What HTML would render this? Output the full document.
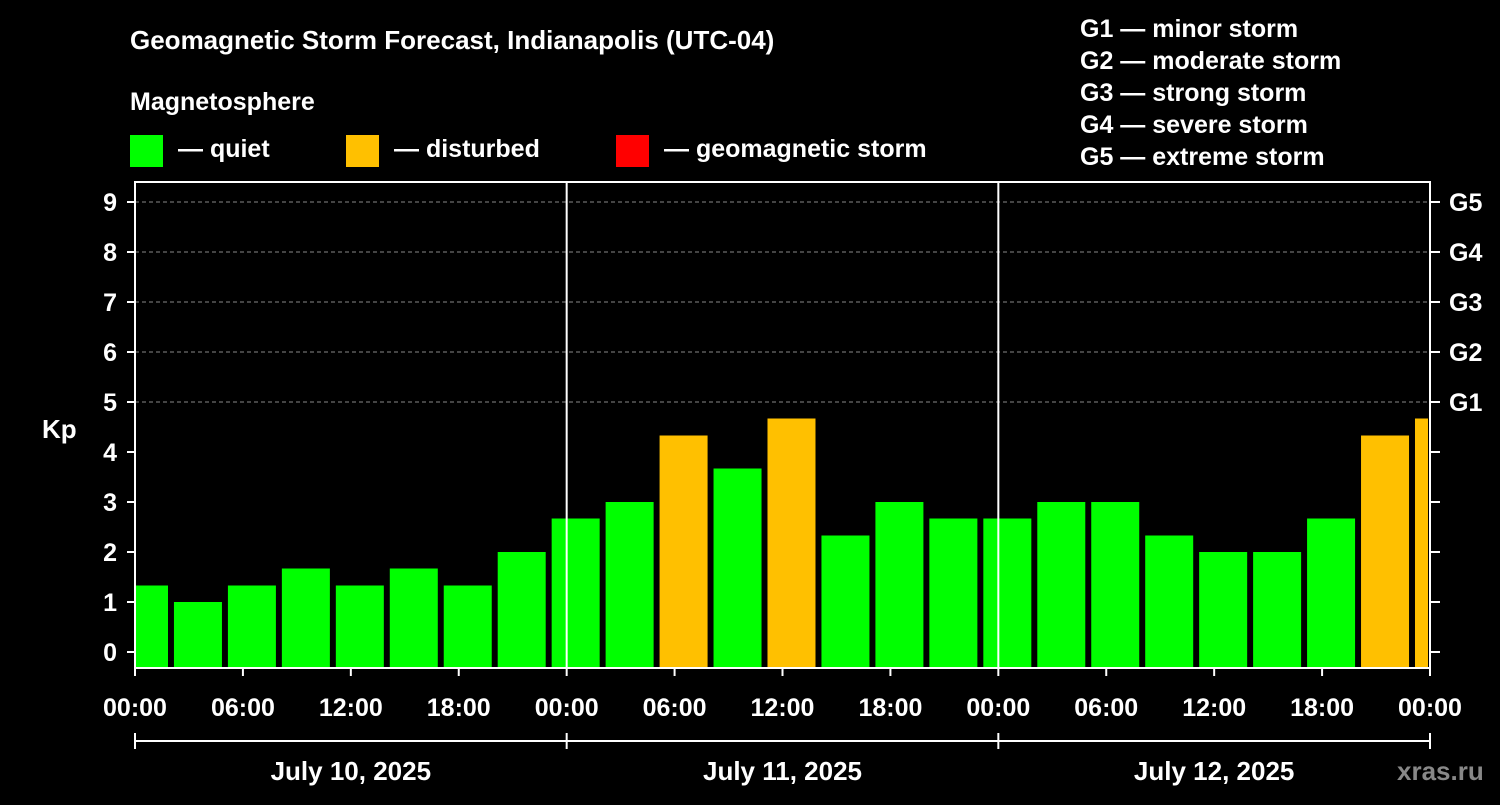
<!DOCTYPE html>
<html><head><meta charset="utf-8"><style>
body{margin:0;background:#000;width:1500px;height:800px;overflow:hidden;font-family:"Liberation Sans",sans-serif;}
svg text{font-family:"Liberation Sans",sans-serif;font-weight:bold;fill:#fff;}
</style></head><body>
<svg id="chart" width="1500" height="800" xmlns="http://www.w3.org/2000/svg">
<text x="130" y="49" font-size="26">Geomagnetic Storm Forecast, Indianapolis (UTC-04)</text>
<text x="130" y="110" font-size="25">Magnetosphere</text>
<g><rect x="130" y="135" width="33" height="32" fill="#00ff00"/><text x="178" y="157" font-size="25">— quiet</text></g>
<g><rect x="346" y="135" width="33" height="32" fill="#ffc000"/><text x="394" y="157" font-size="25">— disturbed</text></g>
<g><rect x="616" y="135" width="33" height="32" fill="#ff0000"/><text x="664" y="157" font-size="25">— geomagnetic storm</text></g>
<g font-size="25">
<text x="1080" y="37">G1 — minor storm</text><text x="1080" y="69">G2 — moderate storm</text><text x="1080" y="101">G3 — strong storm</text><text x="1080" y="133">G4 — severe storm</text><text x="1080" y="165">G5 — extreme storm</text></g>
<text x="42" y="438" font-size="26">Kp</text>
<text x="1397" y="780" font-size="26" fill="#888" style="fill:#888">xras.ru</text>
<g id="grid"></g><g id="bars"></g><g id="axes"></g>
</svg>
<script>
const kpValues=[1.33,1,1.33,1.67,1.33,1.67,1.33,2,2.67,3,4.33,3.67,4.67,2.33,3,2.67,2.67,3,3,2.33,2,2,2.67,4.33,4.67];
const yTicks=[0,1,2,3,4,5,6,7,8,9];
const gLabels=["G1","G2","G3","G4","G5"];
const xTickLabels=["00:00","06:00","12:00","18:00","00:00","06:00","12:00","18:00","00:00","06:00","12:00","18:00","00:00"];
const dayLabels=["July 10, 2025","July 11, 2025","July 12, 2025"];
const NS="http://www.w3.org/2000/svg";
const X0=135,X1=1430,PT=182,PB=668;
const xs=h=>X0+h*(X1-X0)/72;
const ys=v=>652-v*50;
function mk(t,a,p){const e=document.createElementNS(NS,t);for(const k in a)e.setAttribute(k,a[k]);p.appendChild(e);return e;}
const grid=document.getElementById('grid'),bars=document.getElementById('bars'),axes=document.getElementById('axes');
yTicks.forEach(v=>{
 if(v>=5){const l=mk('line',{x1:X0,x2:X1,y1:ys(v),y2:ys(v),stroke:'#888','stroke-dasharray':'4,3'},grid);
 
 }
 const t=mk('text',{x:117,y:ys(v)+9,'font-size':25,'text-anchor':'end'},axes);t.textContent=v;
 
 
 mk('line',{x1:X0-8,x2:X0,y1:ys(v),y2:ys(v),stroke:'#fff','stroke-width':2},axes);
 mk('line',{x1:X1,x2:X1+10,y1:ys(v),y2:ys(v),stroke:'#fff','stroke-width':2},axes);
});
gLabels.forEach((g,i)=>{const t=mk('text',{x:1449,y:ys(i+5)+9,'font-size':25},axes);t.textContent=g;
 
 });
kpValues.forEach((v,i)=>{
 const c=i*3+0.5;let a=Math.max(X0+1,xs(c)-24),b=Math.min(X1-2,xs(c)+24);
 const r=mk('rect',{x:a,y:ys(v),width:b-a,height:PB-ys(v),fill:v>=4?'#ffc000':'#00ff00'},bars);
 
 
});
mk('rect',{x:X0,y:PT,width:X1-X0,height:PB-PT,fill:'none',stroke:'#fff','stroke-width':2},axes);
[1,2].forEach(d=>mk('line',{x1:xs(d*24),x2:xs(d*24),y1:PT,y2:PB,stroke:'#fff','stroke-width':2},axes));
xTickLabels.forEach((s,i)=>{const x=xs(i*6);
 mk('line',{x1:x,x2:x,y1:PB,y2:PB+8,stroke:'#fff','stroke-width':2},axes);
 const t=mk('text',{x:x,y:716,'font-size':25,'text-anchor':'middle'},axes);t.textContent=s;
 
 });
mk('line',{x1:X0,x2:X1,y1:741,y2:741,stroke:'#fff','stroke-width':2},axes);
[0,1,2,3].forEach(d=>mk('line',{x1:xs(d*24),x2:xs(d*24),y1:733,y2:749,stroke:'#fff','stroke-width':2},axes));
dayLabels.forEach((s,i)=>{const t=mk('text',{x:xs(i*24+12),y:780,'font-size':26,'text-anchor':'middle'},axes);t.textContent=s;
 
 });
</script>
</body></html>
